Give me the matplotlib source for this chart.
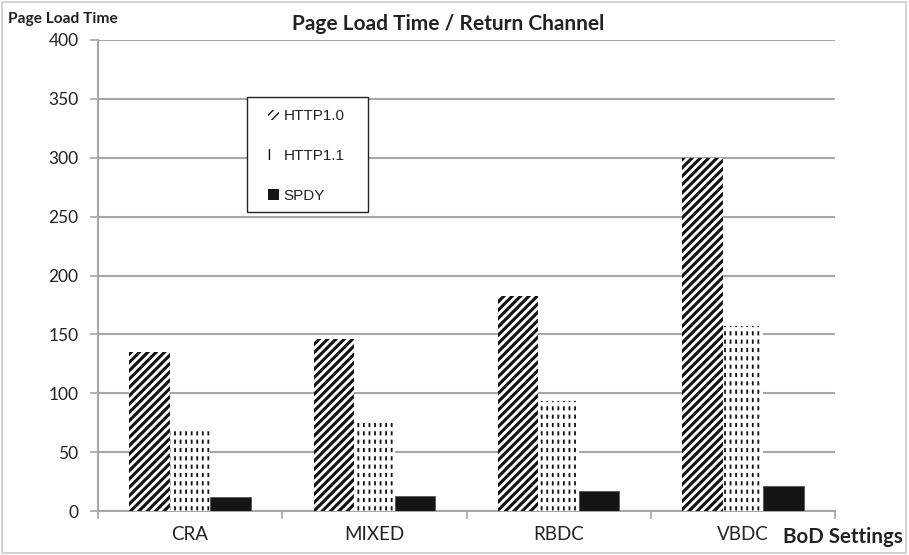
import matplotlib
matplotlib.use("Agg")
import matplotlib.pyplot as plt
from matplotlib.patches import Rectangle, Patch
from matplotlib.legend_handler import HandlerTuple
import numpy as np

categories = ["CRA", "MIXED", "RBDC", "VBDC"]
http10 = [135, 146, 183, 300]
http11 = [70, 75, 93, 157]
spdy = [12, 13, 17, 21]
yticks = [0, 50, 100, 150, 200, 250, 300, 350, 400]

plt.rcParams["font.family"] = ["Lato", "DejaVu Sans"]

fig = plt.figure(figsize=(9.09, 5.55), dpi=100)
ax = fig.add_axes([98 / 909, 1 - 511 / 555, (835 - 98) / 909, (511 - 40) / 555])

x = np.arange(len(categories))
w = 0.22
grid_c = "#a6a6a6"


def hatched_bars(xs, vals, hatch, color, lw, face="white", z=3):
    bars = ax.bar(xs, vals, w, color=face, edgecolor=color, linewidth=0,
                  hatch=hatch, zorder=z)
    for b in bars:
        if hasattr(b, "set_hatch_linewidth"):
            b.set_hatch_linewidth(lw)
    return bars


# HTTP1.0: thick diagonal stripes
hatched_bars(x - w, http10, "////", "#111111", 2.2)
# HTTP1.1: vertical lines broken by white horizontal lines -> dashed columns
hatched_bars(x, http11, "|||", "#111111", 1.3)
hatched_bars(x, http11, "--", "white", 3.0, face="none", z=4)
# SPDY: solid
ax.bar(x + w, spdy, w, color="#151515", edgecolor="#555555", linewidth=0.6, zorder=3)

ax.set_xlim(-0.5, len(categories) - 0.5)
ax.set_ylim(0, 400)
ax.set_yticks(yticks)
ax.set_yticklabels([str(v) for v in yticks], fontsize=12.5, color="#222222")
ax.yaxis.grid(True, color=grid_c, linewidth=1.5, zorder=0)
ax.set_axisbelow(True)

ax.set_xticks(x)
ax.set_xticklabels(categories, fontsize=13.5, color="#222222")
ax.tick_params(axis="x", length=0, pad=11)
ax.set_xticks(np.arange(-0.5, len(categories)), minor=True)
ax.tick_params(axis="x", which="minor", length=6, color=grid_c, width=1.2)
ax.tick_params(axis="y", length=6, color=grid_c, width=1.2, pad=8)

for s in ["top", "right"]:
    ax.spines[s].set_visible(False)
for s in ["left", "bottom"]:
    ax.spines[s].set_color(grid_c)
    ax.spines[s].set_linewidth(1.5)

fig.text(448 / 909, 1 - 24 / 555, "Page Load Time / Return Channel",
         fontsize=15, fontweight="bold", ha="center", va="center", color="#222222")
fig.text(8 / 909, 1 - 19 / 555, "Page Load Time", fontsize=11.2,
         fontweight="bold", ha="left", va="center", color="#222222")
fig.text(903 / 909, 1 - 537 / 555, "BoD Settings", fontsize=14.8,
         fontweight="bold", ha="right", va="center", color="#222222")

# legend handles built from the same hatch styles as the bars
h10 = Patch(facecolor="white", edgecolor="#111111", linewidth=0, hatch="////")
h11a = Patch(facecolor="white", edgecolor="#111111", linewidth=0, hatch="|||")
h11b = Patch(facecolor="none", edgecolor="white", linewidth=0, hatch="--")
hsp = Patch(facecolor="#151515", edgecolor="#151515", linewidth=0)
for p, lw in [(h10, 2.2), (h11a, 1.3), (h11b, 3.0)]:
    p.set_hatch_linewidth(lw)

# legend frame drawn separately so the padding can differ per side
fig.patches.append(Rectangle((247 / 909, 1 - 212 / 555), 121 / 909, 115 / 555,
                             transform=fig.transFigure, fill=True, facecolor="white",
                             edgecolor="#222222", linewidth=1.0, zorder=5))
leg = fig.legend([h10, (h11a, h11b), hsp], ["HTTP1.0", "HTTP1.1", "SPDY"],
                 handler_map={tuple: HandlerTuple(ndivide=None, pad=0)},
                 loc="center left", bbox_to_anchor=(268 / 909, 1 - 156 / 555),
                 prop={"family": "Liberation Sans", "size": 11},
                 handlelength=0.7, handleheight=0.7, handletextpad=0.3,
                 labelspacing=1.68, borderpad=0, borderaxespad=0,
                 frameon=False)
leg.set_zorder(6)
for t in leg.get_texts():
    t.set_color("#222222")

fig.patches.append(Rectangle((0.002, 0.003), 0.995, 0.994, transform=fig.transFigure,
                             fill=False, edgecolor="#cccccc", linewidth=1.2))

fig.savefig("out.png", dpi=100)
